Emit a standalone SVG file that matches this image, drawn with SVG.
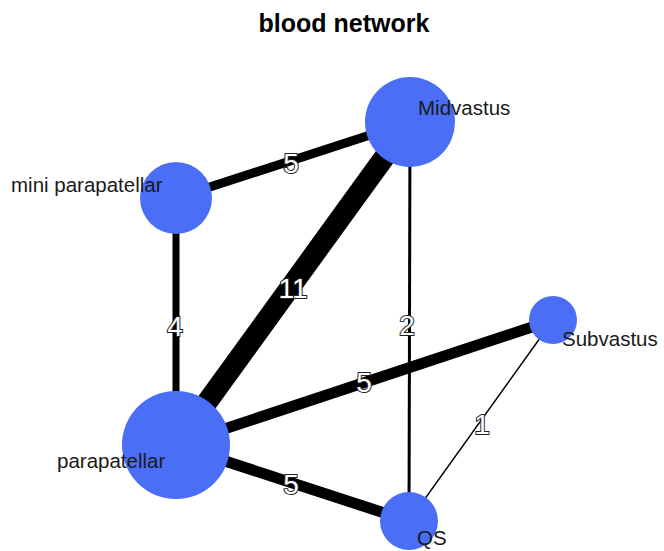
<svg xmlns="http://www.w3.org/2000/svg" width="664" height="551" viewBox="0 0 664 551">
<style>
.edge{stroke:#000;stroke-linecap:butt;fill:none}
.node{fill:#4a6ef5}
.nlabel{font-family:"Liberation Sans",Arial,sans-serif;font-size:20.5px;fill:#1a1a1a}
.elabel{font-family:"Liberation Sans",Arial,sans-serif;font-size:28px;fill:#fff;stroke:#222;stroke-width:2px;paint-order:stroke;text-anchor:middle;dominant-baseline:central}
.title{font-family:"Liberation Sans",Arial,sans-serif;font-size:25px;font-weight:bold;fill:#000;text-anchor:middle}
</style>
<rect width="664" height="551" fill="#fff"/>
<text class="title" x="344" y="32">blood network</text>
<g id="connectors">
<line class="edge" x1="176" y1="198" x2="410" y2="122" stroke-width="9"/>
<line class="edge" x1="176" y1="445" x2="410" y2="122" stroke-width="21"/>
<line class="edge" x1="176" y1="198" x2="176" y2="445" stroke-width="7"/>
<line class="edge" x1="410" y1="122" x2="409" y2="521" stroke-width="3"/>
<line class="edge" x1="176" y1="445" x2="553" y2="320" stroke-width="11"/>
<line class="edge" x1="176" y1="445" x2="409" y2="521" stroke-width="11"/>
<line class="edge" x1="553" y1="320" x2="409" y2="521" stroke-width="1.5"/>
<text class="elabel" x="291" y="163">5</text>
<text class="elabel" x="293" y="288">11</text>
<text class="elabel" x="175" y="326">4</text>
<text class="elabel" x="407" y="325">2</text>
<text class="elabel" x="364" y="382">5</text>
<text class="elabel" x="482" y="424">1</text>
<text class="elabel" x="291" y="484">5</text>
</g>
<g id="Midvastus">
<circle class="node" cx="410" cy="122" r="45"/>
<text class="nlabel" x="418" y="115">Midvastus</text>
</g>
<g id="mini_parapatellar">
<circle class="node" cx="176" cy="198" r="36"/>
<text class="nlabel" x="11" y="192">mini parapatellar</text>
</g>
<g id="Subvastus">
<circle class="node" cx="553" cy="320" r="24"/>
<text class="nlabel" x="562" y="346">Subvastus</text>
</g>
<g id="parapatellar">
<circle class="node" cx="176" cy="445" r="54"/>
<text class="nlabel" x="57" y="468">parapatellar</text>
</g>
<g id="QS">
<circle class="node" cx="409" cy="521" r="29"/>
<text class="nlabel" x="417" y="545">QS</text>
</g>
</svg>
